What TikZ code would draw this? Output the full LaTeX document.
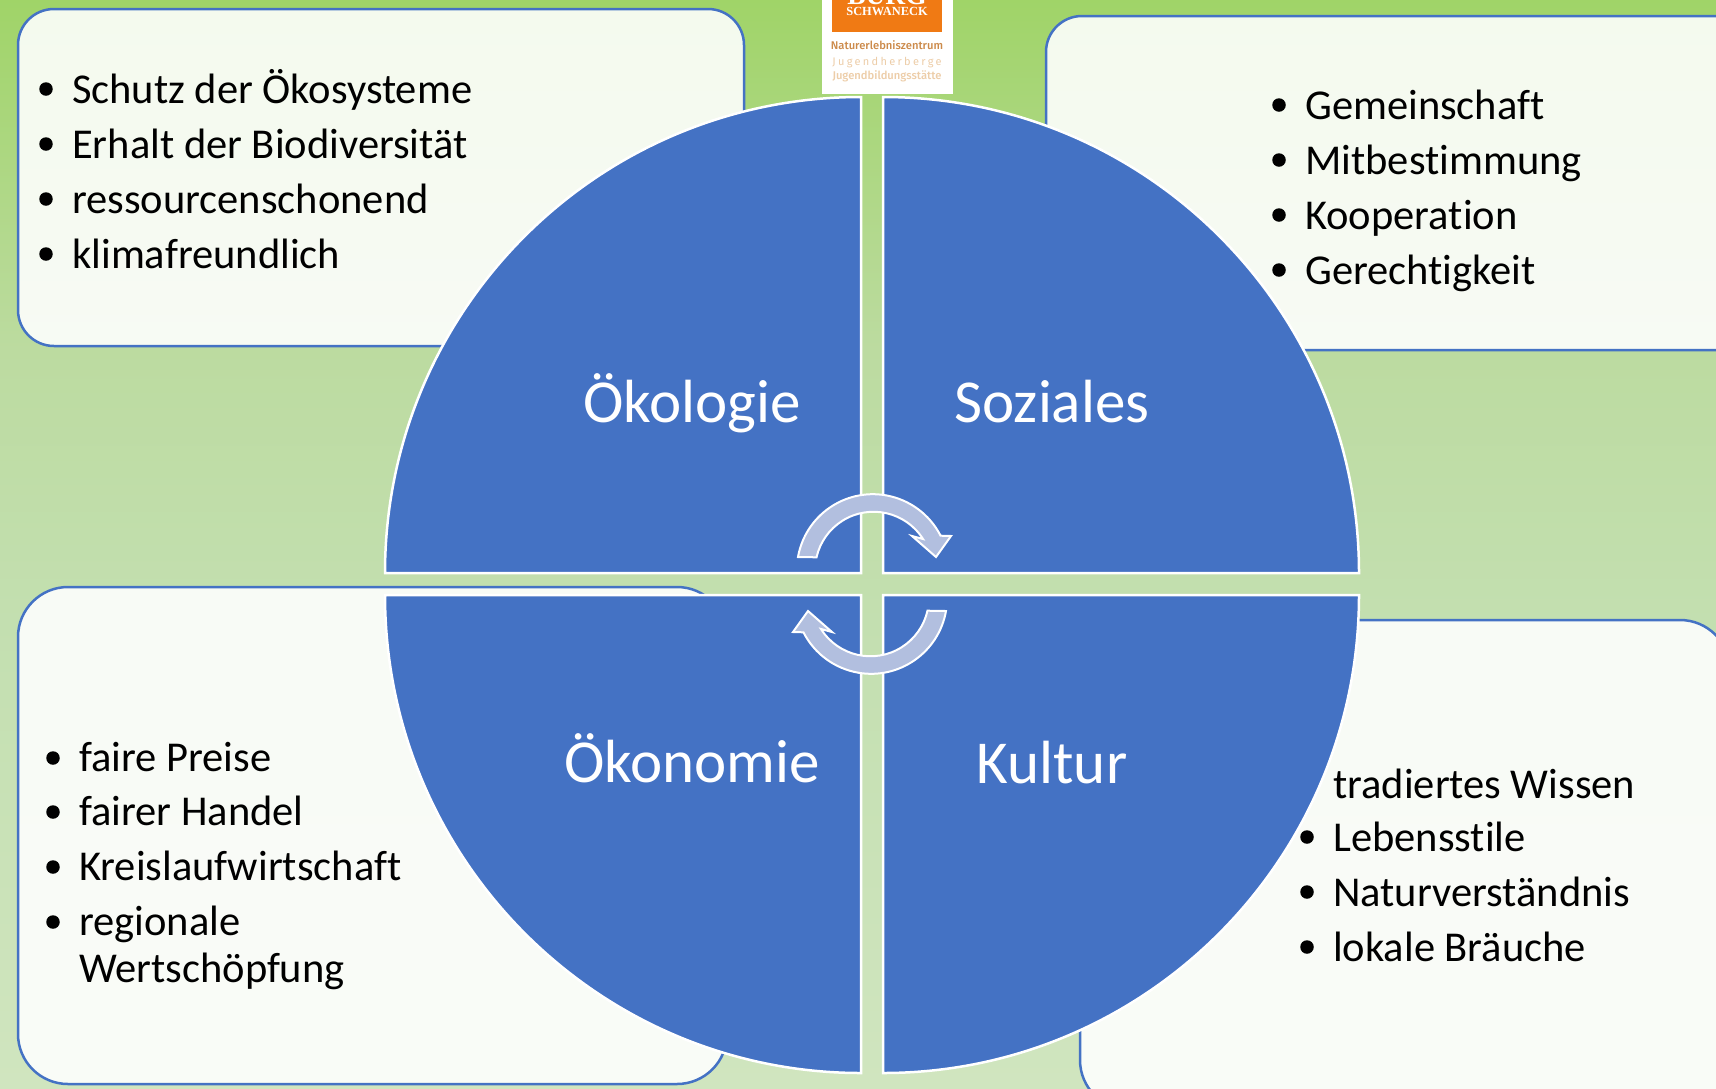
\documentclass[tikz,border=0pt]{standalone}
\usepackage{fontspec}
\setmainfont{Carlito}[Ligatures=NoCommon]
\newfontfamily\logoserif{Liberation Serif}
\newfontfamily\logosans{Fira Sans Medium}
\newfontfamily\logospaced[LetterSpace=21]{Fira Sans}
\definecolor{blueq}{HTML}{4472C4}
\definecolor{arrowfill}{HTML}{B2BFDF}
\definecolor{logoorange}{HTML}{F07A14}
\definecolor{logobrown}{HTML}{CC8A4A}
\definecolor{logolight}{HTML}{EDCDA8}
\pgfdeclareverticalshading{bggrad}{100bp}{
  rgb(0bp)=(0.816,0.898,0.749);
  rgb(25bp)=(0.816,0.898,0.749);
  rgb(46.5bp)=(0.765,0.875,0.690);
  rgb(59bp)=(0.737,0.859,0.627);
  rgb(75bp)=(0.627,0.831,0.408);
  rgb(100bp)=(0.627,0.831,0.408)}
\tikzset{
  x=1pt,y=-1pt,
  infobox/.style={draw=blueq,line width=2.5pt,fill=white,fill opacity=0.89,rounded corners=#1},
  quadrant/.style={fill=blueq,draw=white,line width=2.5pt,line join=miter},
  itemtext/.style={anchor=base west,inner sep=0pt,font=\fontsize{42.5}{42.5}\selectfont,text=black},
  bulletdot/.style={circle,fill=black,inner sep=0pt,minimum size=13.5pt},
  quadlabel/.style={anchor=base,inner sep=0pt,font=\fontsize{61}{61}\selectfont,text=white},
  cyclearrow/.style={fill=arrowfill,draw=white,line width=2pt,line join=miter},
  logotext/.style={anchor=base,inner sep=0pt}
}
\begin{document}
\begin{tikzpicture}
\clip (0,0) rectangle (1716,1088);
\useasboundingbox (0,0) rectangle (1716,1088);
\shade[shading=bggrad] (0,0) rectangle (1716,1088);
% logo
\fill[white] (822,-2) rectangle (953,94);
\fill[logoorange] (832,-2) rectangle (942,32);
\node[logotext,text=white,font=\logoserif\bfseries\fontsize{27.5}{28}\selectfont] (burg) at (887,4) {BURG};
\node[logotext,text=white,font=\logoserif\bfseries\fontsize{12.4}{13}\selectfont] (schwaneck) at (887,15) {SCHWANECK};
\node[logotext,text=logobrown,font=\logosans\fontsize{11.2}{12}\selectfont] (natur) at (887,49) {Naturerlebniszentrum};
\node[logotext,text=logolight,font=\logospaced\fontsize{11}{12}\selectfont] (herberge) at (887,65) {Jugendherberge};
\node[logotext,text=logolight,font=\logosans\fontsize{11.2}{12}\selectfont] (statte) at (887,79) {Jugendbildungsstätte};
% boxes
\draw[infobox=36pt] (18,9) rectangle (744,346);
\draw[infobox=36pt] (1046,16) rectangle (1780,350);
\draw[infobox=50pt] (18,587) rectangle (727,1084);
\draw[infobox=50pt] (1080,620) rectangle (1730,1110);
% upper left list
\foreach \n/\t/\by in {a/Schutz der Ökosysteme/103,b/Erhalt der Biodiversität/158,c/ressourcenschonend/213,d/klimafreundlich/268}{
  \node[itemtext] (ul\n) at (72,\by) {\t};
  \node[bulletdot] (ulb\n) at (46,\by-14) {};
}
% upper right list
\foreach \n/\t/\by in {a/Gemeinschaft/119,b/Mitbestimmung/174,c/Kooperation/229,d/Gerechtigkeit/284}{
  \node[itemtext] (ur\n) at (1305,\by) {\t};
  \node[bulletdot] (urb\n) at (1279,\by-14) {};
}
% lower left list
\foreach \n/\t/\by in {a/faire Preise/771,b/fairer Handel/825,c/Kreislaufwirtschaft/880,d/regionale/935}{
  \node[itemtext] (ll\n) at (79,\by) {\t};
  \node[bulletdot] (llb\n) at (53,\by-13) {};
}
\node[itemtext] (lle) at (79,982) {Wertschöpfung};
% lower right list
\node[itemtext] (lra) at (1333,798) {tradiertes Wissen};
\foreach \n/\t/\by in {b/Lebensstile/851,c/Naturverständnis/906,d/lokale Bräuche/961}{
  \node[itemtext] (lr\n) at (1333,\by) {\t};
  \node[bulletdot] (lrb\n) at (1307,\by-14) {};
}
% quadrants
\draw[quadrant] (861,573) -- (385,573) arc[start angle=180,end angle=90,radius=476pt] -- cycle;
\draw[quadrant] (883,573) -- (883,97) arc[start angle=90,end angle=0,radius=476pt] -- cycle;
\draw[quadrant] (861,595) -- (861,1073) arc[start angle=270,end angle=180,x radius=476pt,y radius=478pt] -- cycle;
\draw[quadrant] (883,595) -- (1359,595) arc[start angle=0,end angle=-90,x radius=476pt,y radius=478pt] -- cycle;
\node[quadlabel] (oeko) at (692,422) {Ökologie};
\node[quadlabel] (soz) at (1052,422) {Soziales};
\node[quadlabel] (oekon) at (692,782) {Ökonomie};
\node[quadlabel] (kult) at (1052,783) {Kultur};
% cycle arrows
\draw[cyclearrow] (798,557) arc[start angle=170,end angle=27,radius=76pt] -- (951,536) -- (936,557) -- (912,536) -- (923,539) arc[start angle=32.3,end angle=167.2,radius=58.5pt] -- cycle;
\draw[cyclearrow,rotate around={180:(872,584)}] (798,557) arc[start angle=170,end angle=27,radius=76pt] -- (951,536) -- (936,557) -- (912,536) -- (923,539) arc[start angle=32.3,end angle=167.2,radius=58.5pt] -- cycle;
\end{tikzpicture}
\end{document}
